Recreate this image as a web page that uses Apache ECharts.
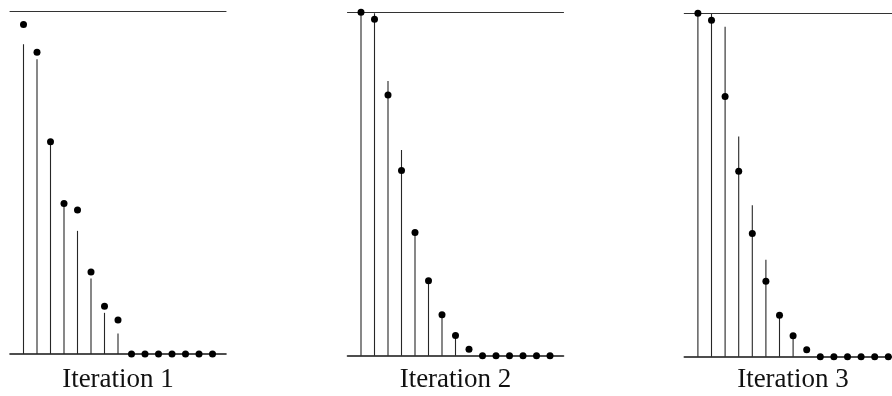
<!DOCTYPE html>
<html><head><meta charset="utf-8">
<script src="https://cdn.jsdelivr.net/npm/echarts@6/dist/echarts.min.js"></script>
<style>html,body{margin:0;padding:0;background:#fff}#c{width:892px;height:396px}</style>
</head><body><div id="c"></div>
<script>
const indices = [0,1,2,3,4,5,6,7,8,9,10,11,12,13,14];
const panelTitles = ['Iteration 1', 'Iteration 2', 'Iteration 3'];
const iter1Stems = [0.903, 0.859, 0.615, 0.435, 0.359, 0.220, 0.120, 0.060, 0, 0, 0, 0, 0, 0, 0];
const iter1Dots  = [0.961, 0.880, 0.619, 0.439, 0.420, 0.239, 0.139, 0.099, 0, 0, 0, 0, 0, 0, 0];
const iter2Stems = [1.000, 0.997, 0.800, 0.599, 0.359, 0.218, 0.119, 0.059, 0, 0, 0, 0, 0, 0, 0];
const iter2Dots  = [1.000, 0.980, 0.759, 0.539, 0.359, 0.218, 0.119, 0.059, 0.019, 0, 0, 0, 0, 0, 0];
const iter3Stems = [1.000, 0.998, 0.961, 0.641, 0.441, 0.282, 0.121, 0.061, 0, 0, 0, 0, 0, 0, 0];
const iter3Dots  = [1.000, 0.980, 0.758, 0.540, 0.359, 0.220, 0.121, 0.061, 0.020, 0, 0, 0, 0, 0, 0];

const stems = [iter1Stems, iter2Stems, iter3Stems];
const dots = [iter1Dots, iter2Dots, iter3Dots];

// third panel is cut off by the right edge of the picture
const grids = [
  {left: 10, top: 11, width: 216, height: 343},
  {left: 347.5, top: 12.3, width: 216, height: 343.4},
  {left: 684.3, top: 13.3, width: 207.7, height: 343.4}
];
const xMax = [15, 15, 14.272];
const titleCenters = [118, 455.5, 793];

const xAxes = [], yAxes = [], series = [], titles = [];
grids.forEach((g, i) => {
  xAxes.push({
    type: 'value', gridIndex: i, min: -1, max: xMax[i], position: 'bottom',
    axisLine: {show: true, onZero: false, lineStyle: {color: '#141414', width: 1.6}},
    axisTick: {show: false}, axisLabel: {show: false}, splitLine: {show: false}
  });
  xAxes.push({
    type: 'value', gridIndex: i, min: -1, max: xMax[i], position: 'top',
    axisLine: {show: true, onZero: false, lineStyle: {color: '#333', width: 1.1}},
    axisTick: {show: false}, axisLabel: {show: false}, splitLine: {show: false}
  });
  yAxes.push({
    type: 'value', gridIndex: i, min: 0, max: 1,
    axisLine: {show: false}, axisTick: {show: false}, axisLabel: {show: false}, splitLine: {show: false}
  });
  series.push({
    type: 'custom', xAxisIndex: i * 2, yAxisIndex: i,
    data: indices.map((k, j) => [k, stems[i][j]]),
    renderItem: function (params, api) {
      const p0 = api.coord([api.value(0), 0]);
      const p1 = api.coord([api.value(0), api.value(1)]);
      if (Math.abs(p0[1] - p1[1]) < 0.5) return null;
      return {
        type: 'line',
        shape: {x1: p0[0], y1: p0[1], x2: p1[0], y2: p1[1]},
        style: {stroke: '#262626', lineWidth: 1.1}
      };
    },
    z: 2, silent: true
  });
  series.push({
    type: 'scatter', xAxisIndex: i * 2, yAxisIndex: i,
    data: indices.map((k, j) => [k, dots[i][j]]),
    symbol: 'circle', symbolSize: 7, clip: false,
    itemStyle: {color: '#000', opacity: 1}, z: 3, silent: true
  });
  titles.push({
    text: panelTitles[i], left: titleCenters[i], top: 366, textAlign: 'center', padding: 0,
    textStyle: {fontFamily: 'Liberation Serif', fontSize: 27, fontWeight: 'normal', color: '#111'}
  });
});

const chart = echarts.init(document.getElementById('c'), null, {renderer: 'canvas'});
chart.setOption({
  backgroundColor: '#fff',
  animation: false,
  title: titles,
  grid: grids,
  xAxis: xAxes,
  yAxis: yAxes,
  series: series
});
</script>
</body></html>
